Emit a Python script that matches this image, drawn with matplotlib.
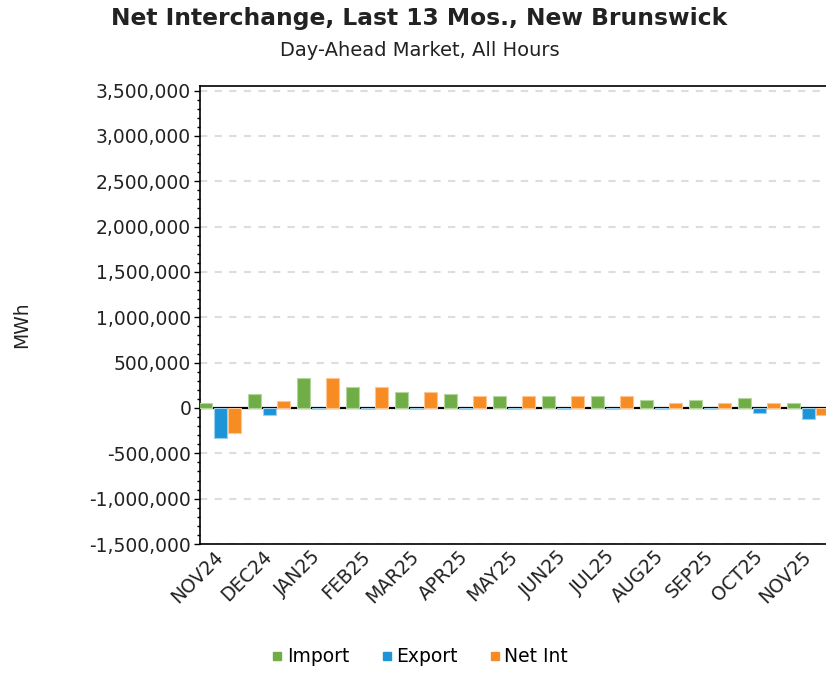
import matplotlib
matplotlib.use("Agg")
import matplotlib.pyplot as plt
from matplotlib.ticker import FuncFormatter, MultipleLocator
from matplotlib.lines import Line2D
import numpy as np

months = ["NOV24", "DEC24", "JAN25", "FEB25", "MAR25", "APR25", "MAY25",
          "JUN25", "JUL25", "AUG25", "SEP25", "OCT25", "NOV25"]
import_mwh = [55000, 150000, 325000, 228000, 172000, 150000, 130000,
              130000, 130000, 85000, 85000, 105000, 55000]
export_mwh = [-330000, -80000, -10000, -10000, -10000, -12000, -10000,
              -10000, -10000, -12000, -12000, -60000, -120000]
net_mwh = [-275000, 75000, 325000, 228000, 172000, 130000, 130000,
           130000, 130000, 55000, 55000, 55000, -75000]

series_names = ["Import", "Export", "Net Int"]
colors = ["#70AD47", "#1C94D6", "#F78C23"]
edge_colors = ["#B5D6A0", "#9CCDEB", "#FBC694"]

plt.rcParams['font.family'] = ['DejaVu Sans']

fig = plt.figure(figsize=(8.26, 6.73), dpi=100)
ax = fig.add_axes([199.5 / 826, 1 - 544 / 673, 1 - 199.5 / 826, (544 - 86) / 673])

x = np.arange(len(months))
step = 0.296
width = 0.265
for i, vals in enumerate([import_mwh, export_mwh, net_mwh]):
    ax.bar(x + (i - 1) * step, vals, width=width, color=colors[i],
           edgecolor=edge_colors[i], linewidth=0.8, zorder=3)

ax.axhline(0, color="black", linewidth=1.6, zorder=2)

ax.set_ylim(-1500000, 3550000)
ax.set_xlim(-0.42, 12.36)
ax.yaxis.set_major_locator(MultipleLocator(500000))
ax.yaxis.set_minor_locator(MultipleLocator(100000))
ax.yaxis.set_major_formatter(FuncFormatter(lambda v, p: f"{int(round(v)):,}"))
ax.grid(axis="y", which="major", color="#dddddd", linewidth=1.5,
        linestyle=(0, (3.5, 3.5)), zorder=0)
ax.set_axisbelow(True)

ax.set_xticks(x)
ax.set_xticklabels(months, rotation=45, ha="right", va="center",
                   rotation_mode="anchor", fontsize=13.5, color="#222222")
ax.tick_params(axis="x", length=0, pad=7)
ax.tick_params(axis="y", which="major", length=4, width=1, labelsize=13.5,
               labelcolor="#222222", pad=2)
ax.tick_params(axis="y", which="minor", length=2, width=1)

for side in ["left", "bottom", "top"]:
    ax.spines[side].set_color("black")
    ax.spines[side].set_linewidth(1.2)
ax.spines["right"].set_visible(False)

fig.text(419 / 826, 1 - 19 / 673, "Net Interchange, Last 13 Mos., New Brunswick",
         ha="center", va="center", fontsize=16.8, fontweight="bold", color="#222222")
fig.text(420 / 826, 1 - 50 / 673, "Day-Ahead Market, All Hours",
         ha="center", va="center", fontsize=14, color="#222222")
fig.text(22 / 826, 1 - 325 / 673, "MWh", rotation=90, ha="center", va="center",
         fontsize=13.5, color="#222222")

handles = [Line2D([0], [0], marker="s", linestyle="none", markersize=6,
                  markerfacecolor=c, markeredgecolor=c) for c in colors]
fig.legend(handles, series_names, loc="center", bbox_to_anchor=(419 / 826, 1 - 657 / 673),
           ncol=3, frameon=False, fontsize=13.5, handletextpad=0.1,
           columnspacing=1.6, handlelength=0.8)

fig.savefig("out.png", dpi=100)
